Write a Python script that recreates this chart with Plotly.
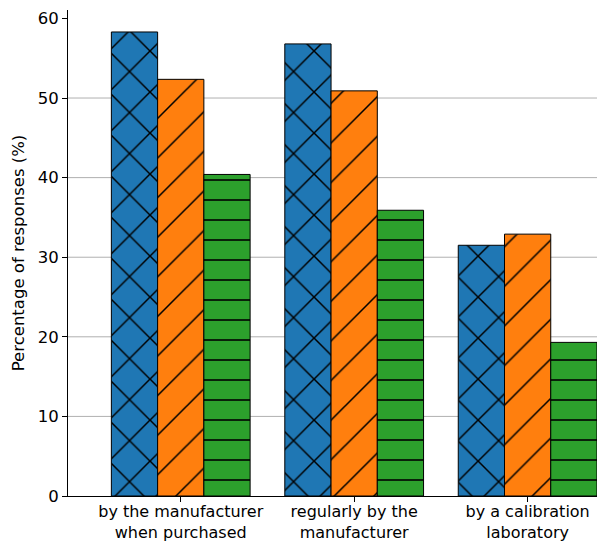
import plotly.graph_objects as go

# ---- data ----
categories = [
    "by the manufacturer<br>when purchased",
    "regularly by the<br>manufacturer",
    "by a calibration<br>laboratory",
]
series_names = ["Series 1", "Series 2", "Series 3"]
values_blue = [58.3, 56.8, 31.5]
values_orange = [52.35, 50.9, 32.9]
values_green = [40.4, 35.9, 19.3]
y_ticks = [0, 10, 20, 30, 40, 50, 60]
grid_ticks = [10, 20, 30, 40, 50]

colors = ["#1f77b4", "#ff7f0e", "#2ca02c"]
patterns = [
    dict(shape="x", size=29, solidity=0.1),
    dict(shape="/", size=28, solidity=0.055),
    dict(shape="-", size=20, solidity=0.08),
]

fig = go.Figure()
for name, vals, col, pat in zip(series_names,
                                [values_blue, values_orange, values_green],
                                colors, patterns):
    fig.add_trace(go.Bar(
        x=categories, y=vals, name=name,
        marker=dict(color=col,
                    line=dict(color="black", width=1),
                    pattern=dict(shape=pat["shape"], size=pat["size"],
                                 solidity=pat["solidity"], fgcolor="black",
                                 bgcolor=col, fillmode="replace")),
    ))

for g in grid_ticks:
    fig.add_shape(type="line", xref="paper", yref="y", x0=0, x1=1, y0=g, y1=g,
                  line=dict(color="#b0b0b0", width=1), layer="below")

FS = 16.5
fig.update_layout(
    width=597, height=543,
    margin=dict(l=68, r=0, t=10, b=47),
    plot_bgcolor="white", paper_bgcolor="white",
    barmode="group", bargap=0.2, bargroupgap=0,
    showlegend=False,
    font=dict(family="DejaVu Sans", size=FS, color="black"),
)
fig.update_xaxes(
    range=[-0.65, 2.40],
    automargin=False,
    showline=True, linecolor="black", linewidth=1,
    ticks="outside", ticklen=5, tickcolor="black",
    ticklabelstandoff=-4,
    showgrid=False, tickfont=dict(size=16),
)
fig.update_yaxes(
    range=[0, 61.06],
    automargin=False,
    tickvals=y_ticks,
    showline=True, linecolor="black", linewidth=1,
    ticks="outside", ticklen=5, tickcolor="black",
    showgrid=False, zeroline=False, tickfont=dict(size=FS),
    title=dict(text="Percentage of responses (%)", font=dict(size=FS), standoff=8),
)

fig.write_html(
    "out.html",
    config={"displayModeBar": False},
    post_script="document.body.style.margin='0';document.body.style.overflow='hidden';",
)
